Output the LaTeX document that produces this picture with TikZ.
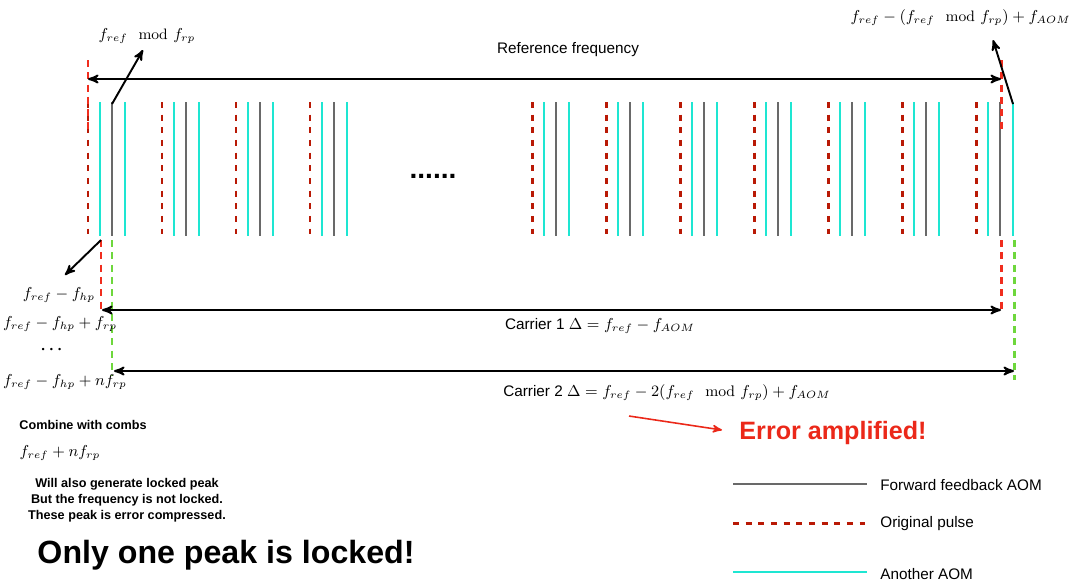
\documentclass[tikz,border=0pt]{standalone}
\usepackage{amsmath}
\usepackage{amssymb}
\usepackage{fontspec}
\setsansfont{Liberation Sans}
\usepackage{tikz}
\usetikzlibrary{arrows}
\usetikzlibrary{positioning}

\definecolor{pulsered}{RGB}{185,25,5}
\definecolor{brightred}{RGB}{240,45,30}
\definecolor{aomcyan}{RGB}{30,230,210}
\definecolor{aomgray}{RGB}{105,105,105}
\definecolor{combgreen}{RGB}{110,215,60}
\definecolor{alertred}{RGB}{235,40,25}

\begin{document}
\begin{tikzpicture}[>=stealth',x=0.02cm,y=-0.02cm,
    pulse line/.style={pulsered,line width=1.7pt,dash pattern=on 3.4pt off 3.8pt},
    another line/.style={aomcyan,line width=1.2pt},
    forward line/.style={aomgray,line width=1.2pt},
    marker line/.style={brightred,line width=1.7pt,dash pattern=on 4pt off 3pt},
    comb line/.style={combgreen,line width=1.7pt,dash pattern=on 4pt off 3pt},
    span arrow/.style={<->,black,line width=1.1pt},
    label arrow/.style={->,black,line width=1.1pt},
    freq node/.style={inner sep=0pt,font=\fontsize{8.6}{10}\selectfont},
    text node/.style={inner sep=0pt,font=\sffamily\fontsize{8.7}{10}\selectfont},
    note node/.style={inner sep=0pt,align=center,font=\sffamily\bfseries\fontsize{7.2}{9}\selectfont}]

  \useasboundingbox (0,0) rectangle (1077,583);

  % pulse groups
  \foreach \x in {88,162,236,310,532,606,680,754,828,902,976} {
    \draw[pulse line] (\x,102) -- (\x,236);
    \draw[another line] (\x+12,102) -- (\x+12,236);
    \draw[forward line] (\x+24,102) -- (\x+24,236);
    \draw[another line] (\x+37,102) -- (\x+37,236);
  }
  \node[inner sep=0pt,font=\sffamily\bfseries\fontsize{16}{18}\selectfont] (dots) at (433,176) {......};

  % markers
  \draw[marker line] (88,60) -- (88,132);
  \draw[marker line] (1001,60) -- (1001,130);
  \draw[marker line] (101,240) -- (101,312);
  \draw[marker line] (1001,240) -- (1001,312);
  \draw[comb line] (112,240) -- (112,376);
  \draw[comb line] (1014,240) -- (1014,380);

  \coordinate (refL) at (88,79);
  \coordinate (refR) at (1001,79);
  \coordinate (c1L) at (102,310);
  \coordinate (c1R) at (1001,310);
  \coordinate (c2L) at (114,371);
  \coordinate (c2R) at (1014,371);
  \coordinate (grayTop) at (112,104);
  \coordinate (modTip) at (143,50);
  \coordinate (cyanTop) at (1013,104);
  \coordinate (shiftTip) at (993,40);
  \coordinate (cyanBot) at (101,240);
  \coordinate (hpTip) at (65,275);
  \coordinate (errStart) at (629,416);
  \coordinate (errTip) at (722,430);

  % labels
  \node[text node] (reffreq) at (568,50) {Reference frequency};
  \node[freq node] (modlbl) at (147,36) {$f_{ref} \mod f_{rp}$};
  \node[freq node,anchor=east] (shiftlbl) at (1071,18) {$f_{ref}-(f_{ref} \mod f_{rp})+f_{AOM}$};
  \node[freq node] (hp0) at (59,295) {$f_{ref}-f_{hp}$};
  \node[freq node] (hp1) at (60,324) {$f_{ref}-f_{hp}+f_{rp}$};
  \node[freq node] (hpdots) at (53,350) {$\boldsymbol{\cdots}$};
  \node[freq node] (hpn) at (65,382) {$f_{ref}-f_{hp}+nf_{rp}$};
  \node[text node] (car1) at (600,326) {Carrier 1 $\Delta = f_{ref}-f_{AOM}$};
  \node[text node] (car2) at (667,393) {Carrier 2 $\Delta = f_{ref}-2(f_{ref} \mod f_{rp})+f_{AOM}$};
  \node[inner sep=0pt,text=alertred,font=\sffamily\bfseries\fontsize{14.3}{16}\selectfont] (amplified) at (833,433) {Error amplified!};
  \node[note node] (combine) at (83,425) {Combine with combs};
  \node[freq node] (combfreq) at (60,453) {$f_{ref}+nf_{rp}$};
  \node[note node] (notes) at (127,500) {Will also generate locked peak\\But the frequency is not locked.\\These peak is error compressed.};
  \node[inner sep=0pt,font=\sffamily\bfseries\fontsize{18.3}{20}\selectfont] (onlyone) at (226,555) {Only one peak is locked!};

  % connectors
  \draw[span arrow] (refL) -- (refR);
  \draw[span arrow] (c1L) -- (c1R);
  \draw[span arrow] (c2L) -- (c2R);
  \draw[label arrow] (grayTop) -- (modTip);
  \draw[label arrow] (cyanTop) -- (shiftTip);
  \draw[label arrow] (cyanBot) -- (hpTip);
  \draw[->,alertred,line width=0.9pt] (errStart) -- (errTip);

  % legend
  \draw[forward line] (733,484) -- (867,484);
  \node[text node,anchor=west] (lgforward) at (880,485) {Forward feedback AOM};
  \draw[pulse line] (733,523) -- (867,523);
  \node[text node,anchor=west] (lgpulse) at (880,524) {Original pulse};
  \draw[another line] (733,572) -- (867,572);
  \node[text node,anchor=west] (lganother) at (880,574) {Another AOM};
\end{tikzpicture}
\end{document}
